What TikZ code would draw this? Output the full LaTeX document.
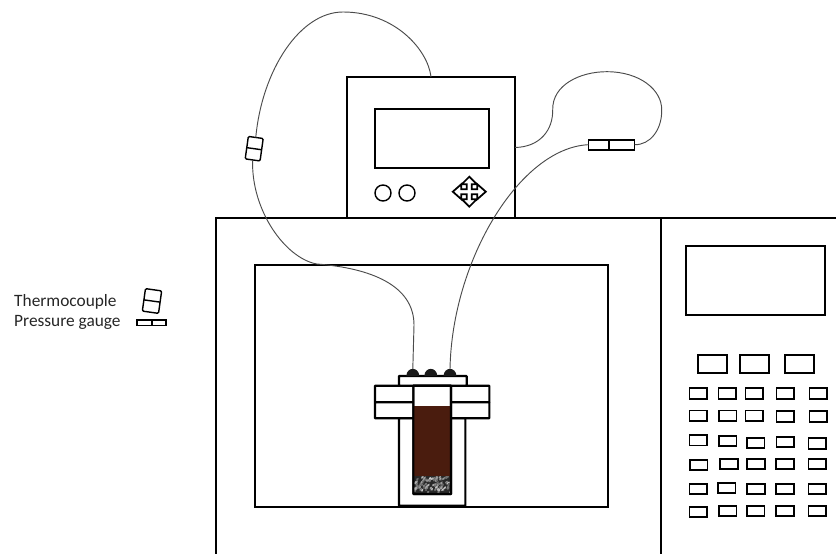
\documentclass[tikz,border=0pt]{standalone}
\usepackage{fontspec}
\setmainfont{Carlito}
\usepackage{tikz}
\usetikzlibrary{arrows.meta,calc,positioning}
\definecolor{wiregray}{RGB}{75,75,75}
\definecolor{liquidbrown}{RGB}{74,28,14}
\definecolor{bedgray}{RGB}{40,40,40}
\tikzset{
  wire/.style={wiregray,line width=0.8pt},
  panel/.style={black,line width=1.45pt},
  vessel/.style={draw=black,line width=1.8pt,fill=white,rounded corners=0.4pt},
  box/.style={draw=black,line width=1.45pt,fill=white,inner sep=0pt,outer sep=0pt},
  bigkey/.style={box,minimum width=8.7mm,minimum height=5.4mm},
  smallkey/.style={box,line width=1.45pt,minimum width=5.2mm,minimum height=3.2mm},
  roundkey/.style={box,circle,line width=1.2pt,minimum size=4.8mm},
  sensor/.style={box,line width=1.2pt,rounded corners=1pt},
  legendlab/.style={font=\fontsize{14.8}{16}\selectfont,text=black!85,anchor=west,inner sep=0pt},
}

\begin{document}
\begin{tikzpicture}[x=0.3mm,y=-0.3mm]
  \path[use as bounding box] (0,0) rectangle (836,554);

  % oven
  \draw[panel] (216,554) -- (216,218) -- (836,218);
  \draw[panel] (661,218) -- (661,554);
  \draw[panel] (255,265) rectangle (608,507);
  \draw[panel] (686,246) rectangle (825,315);

  % oven keypad
  \foreach \x/\name in {712.5/keyA,754.2/keyB,799.5/keyC}{
    \node[bigkey] (\name) at (\x,363.7) {};
  }
  \foreach \x/\y [count=\i] in {698.3/393.5,727.3/393.5,754.3/393.5,785.3/393.5,818.3/393.5,
      698.3/415.7,727.7/415.7,754.3/415.7,785.3/416.5,818.3/416.5,
      698.3/440.3,727.7/441,755.7/443,785.3/442,817.3/443.5,
      698.8/465,729/464,756/464,785/464,817.3/464,
      698.3/489,726.7/488,756/489,785/489,817.3/489,
      698.3/512,727.7/511,755.7/511,785/511,817.3/511}{
    \node[smallkey] (key\i) at (\x,\y) {};
  }

  % controller
  \node[box,minimum width=50.4mm,minimum height=42.3mm] (controller) at (431,147.5) {};
  \draw[panel] (375,109) rectangle (489,168);
  \node[roundkey] (roundA) at (383,193) {};
  \node[roundkey] (roundB) at (407,193) {};
  \begin{scope}[shift={(469.3,191.7)}]
    \draw[black,line width=1.5pt,line join=miter,fill=white]
      (0,-15) -- (7.5,-7.5) -- (2.5,-7.5) -- (2.5,-2.5) -- (8,-2.5) -- (8,-7.5) -- (16.5,0)
      -- (8,7.5) -- (8,2.5) -- (2.5,2.5) -- (2.5,7.5) -- (7.5,7.5) -- (0,15) -- (-7.5,7.5)
      -- (-2.5,7.5) -- (-2.5,2.5) -- (-8,2.5) -- (-8,7.5) -- (-16.5,0) -- (-8,-7.5) -- (-8,-2.5)
      -- (-2.5,-2.5) -- (-2.5,-7.5) -- (-7.5,-7.5) -- cycle;
  \end{scope}

  % reactor
  \draw[vessel] (399,418) rectangle (465.3,505.7);
  \draw[vessel] (375,385.7) rectangle (489.3,402.3);
  \draw[vessel] (375,402.3) rectangle (489.3,418.3);
  \draw[vessel] (399,376) rectangle (466.7,385.7);
  \draw[vessel] (413.3,385.7) rectangle (451,494);
  \fill[liquidbrown] (414.2,406) rectangle (450.1,476);
  \begin{scope}
    \clip (414.2,476) rectangle (450.1,493);
    \fill[bedgray] (414.2,476) rectangle (450.1,493);
    \pgfmathsetseed{11}
    \foreach \i in {1,...,90}{
      \pgfmathsetmacro{\px}{414+36*rnd}
      \pgfmathsetmacro{\py}{476+16*rnd}
      \pgfmathsetmacro{\shade}{35+45*rnd}
      \fill[white!\shade!black] (\px,\py) -- ++(2.2,-0.8) -- ++(-0.5,2.4) -- ++(-2,0.2) -- cycle;
    }
  \end{scope}
  \draw[black,line width=1.8pt,rounded corners=0.4pt] (413.3,385.7) rectangle (451,494);
  \foreach \x/\name in {412.8/knobA,430.8/knobB,450/knobC}{
    \coordinate (\name) at (\x,369);
    \fill[black!90] (\x-6.5,376) .. controls (\x-6,366.5) and (\x+6,366.5) .. (\x+6.5,376) -- cycle;
  }

  % sensors
  \node[sensor,minimum width=4.5mm,minimum height=6.8mm,rotate=-8] (couple) at (254.2,148.7) {};
  \draw[black,line width=1.2pt] (couple.west) -- (couple.east);
  \node[box,line width=1.4pt,minimum width=13.9mm,minimum height=3mm] (gauge) at (611.5,144.7) {};
  \draw[black,line width=1.4pt] (609,139.7) -- (609,149.7);

  % wires
  \draw[wire] (controller.north) .. controls (428,50) and (395,12) .. (343,12)
    .. controls (300,12) and (262,70) .. (couple.north);
  \draw[wire] (couple.south) .. controls (251,210) and (285,258) .. (316.7,264)
    .. controls (370,268) and (414,285) .. (414,325) -- (knobA);
  \draw[wire] (controller.east) .. controls (540,147) and (553,130) .. (552.7,110)
    .. controls (552,85) and (580,71.7) .. (606.7,71.7)
    .. controls (640,71.7) and (662,90) .. (661.7,110)
    .. controls (662,130) and (650,145) .. (gauge.east);
  \draw[wire] (gauge.west) .. controls (520,148) and (452,260) .. (knobC);

  % legend
  \node[legendlab] (coupletext) at (14,302) {Thermocouple};
  \node[legendlab] (gaugetext) at (14,322) {Pressure gauge};
  \node[sensor,minimum width=4.9mm,minimum height=6.8mm,rotate=-8] (couplekey) at (152,301) {};
  \draw[black,line width=1.2pt] (couplekey.west) -- (couplekey.east);
  \node[box,line width=1.6pt,minimum width=8.6mm,minimum height=1.7mm] (gaugekey) at (151.7,322.7) {};
  \draw[black,line width=1.6pt] (gaugekey.north) -- (gaugekey.south);
\end{tikzpicture}
\end{document}
